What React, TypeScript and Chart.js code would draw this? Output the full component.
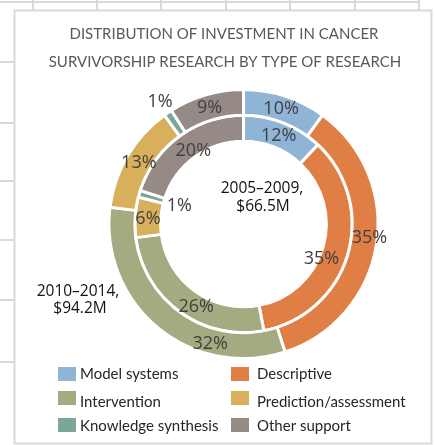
import React, { useEffect, useRef } from 'react';
import { Chart, registerables } from 'chart.js';

Chart.register(...registerables);

// ---------- data ----------
const CATEGORIES = [
  'Model systems',
  'Descriptive',
  'Intervention',
  'Prediction/assessment',
  'Knowledge synthesis',
  'Other support',
];
const COLORS = ['#8fb4d6', '#df7f46', '#a5aa80', '#d8b05b', '#79a79a', '#968a87'];
const VALUES_2010_2014 = [10, 35, 32, 13, 1, 9]; // outer ring
const VALUES_2005_2009 = [12, 35, 26, 6, 1, 20]; // inner ring
const RING_NAMES = ['2010–2014', '2005–2009'];
const RING_TOTALS = ['$94.2M', '$66.5M'];
const TITLE_LINES = [
  'DISTRIBUTION OF INVESTMENT IN CANCER',
  'SURVIVORSHIP RESEARCH BY TYPE OF RESEARCH',
];

// ---------- layout / style ----------
const W = 434;
const H = 445;
const GRID = '#d9d9d9';
const GRID_X = [33, 97, 161, 226, 290, 355, 419];
const GRID_Y = [62, 123, 181, 240, 300, 362];
const PCT_FONT = '18px "Open Sans", sans-serif';
const LEGEND_FONT = '15px Lato, sans-serif';

// per-label nudges (ring index, slice index, angle deg, radial px)
const LABEL_NUDGES = [
  { ring: 0, index: 1, da: -3, dr: 5 },
  { ring: 0, index: 2, da: -24, dr: 2 },
  { ring: 0, index: 4, da: 0, dr: 2 },
  { ring: 1, index: 1, da: 7, dr: -11 },
  { ring: 1, index: 2, da: -6, dr: -1 },
  { ring: 1, index: 5, da: 2, dr: -6 },
];

const backgroundPlugin = {
  id: 'backgroundGrid',
  beforeDraw(chart: any) {
    const ctx = chart.ctx;
    ctx.save();
    ctx.fillStyle = '#ffffff';
    ctx.fillRect(0, 0, W, H);
    ctx.strokeStyle = GRID;
    ctx.lineWidth = 2;
    ctx.beginPath();
    ctx.moveTo(0, 2);
    ctx.lineTo(GRID_X[GRID_X.length - 1], 2);
    GRID_X.forEach((x) => {
      ctx.moveTo(x, 0);
      ctx.lineTo(x, 11);
    });
    GRID_Y.forEach((y) => {
      ctx.moveTo(0, y);
      ctx.lineTo(14, y);
    });
    ctx.stroke();
    ctx.strokeRect(14.5, 10.5, 417, 433);
    ctx.restore();
  },
};

const annotationPlugin = {
  id: 'annotations',
  afterDatasetsDraw(chart: any) {
    const ctx = chart.ctx;
    ctx.save();
    // percentage labels
    ctx.font = PCT_FONT;
    ctx.fillStyle = '#404040';
    ctx.textAlign = 'center';
    ctx.textBaseline = 'middle';
    chart.data.datasets.forEach((ds: any, di: number) => {
      const meta = chart.getDatasetMeta(di);
      meta.data.forEach((arc: any, i: number) => {
        const p = arc.getProps(['x', 'y', 'startAngle', 'endAngle', 'innerRadius', 'outerRadius']);
        let a = (p.startAngle + p.endAngle) / 2;
        let r = (p.innerRadius + p.outerRadius) / 2;
        const v = ds.data[i];
        if (v <= 1) {
          r = di === 0 ? p.outerRadius + 12 : p.innerRadius - 16;
        }
        const n = LABEL_NUDGES.find((q) => q.ring === di && q.index === i);
        if (n) {
          a += (n.da * Math.PI) / 180;
          r += n.dr;
        }
        ctx.fillText(v + '%', p.x + r * Math.cos(a), p.y + r * Math.sin(a) + 1);
      });
    });

    // ring captions
    ctx.font = '15.5px "Open Sans", sans-serif';
    ctx.fillStyle = '#111111';
    ctx.fillText(RING_NAMES[1] + ',', 262, 189);
    ctx.fillText(RING_TOTALS[1], 263, 207);
    ctx.fillText(RING_NAMES[0] + ',', 78, 292);
    ctx.fillText(RING_TOTALS[0], 80, 309);

    // title
    ctx.font = '15px Lato, sans-serif';
    ctx.fillStyle = '#595959';
    ctx.fillText(TITLE_LINES[0], 224, 34);
    ctx.fillText(TITLE_LINES[1], 225, 62);

    // legend
    const cols = [
      { sx: 58, tx: 80 },
      { sx: 231, tx: 257 },
    ];
    const rows = [
      { sy: 367, ty: 374 },
      { sy: 391, ty: 402 },
      { sy: 418, ty: 426 },
    ];
    ctx.font = LEGEND_FONT;
    ctx.textAlign = 'left';
    CATEGORIES.forEach((name, i) => {
      const c = cols[i % 2];
      const rr = rows[Math.floor(i / 2)];
      ctx.fillStyle = COLORS[i];
      ctx.fillRect(c.sx, rr.sy, 18, 14);
      ctx.fillStyle = '#262626';
      ctx.fillText(name, c.tx, rr.ty);
    });
    ctx.restore();
  },
};

export default function App() {
  const ref = useRef<HTMLCanvasElement | null>(null);
  useEffect(() => {
    if (!ref.current) return;
    const chart = new Chart(ref.current, {
      type: 'doughnut',
      data: {
        labels: CATEGORIES,
        datasets: [
          {
            label: RING_NAMES[0],
            data: VALUES_2010_2014,
            backgroundColor: COLORS,
            borderColor: '#ffffff',
            borderWidth: 3,
          },
          {
            label: RING_NAMES[1],
            data: VALUES_2005_2009,
            backgroundColor: COLORS,
            borderColor: '#ffffff',
            borderWidth: 3,
          },
        ],
      },
      options: {
        responsive: false,
        animation: false,
        devicePixelRatio: 1,
        radius: 134.5,
        cutout: 81,
        layout: { padding: { left: 110, right: 57, top: 91, bottom: 88 } },
        plugins: {
          legend: { display: false },
          tooltip: { enabled: false },
          title: { display: false },
        },
      },
      plugins: [backgroundPlugin, annotationPlugin],
    });
    return () => chart.destroy();
  }, []);
  return (
    <div style={{ position: 'fixed', left: 0, top: 0, width: W, height: H }}>
      <canvas ref={ref} width={W} height={H} style={{ display: 'block' }} />
    </div>
  );
}
